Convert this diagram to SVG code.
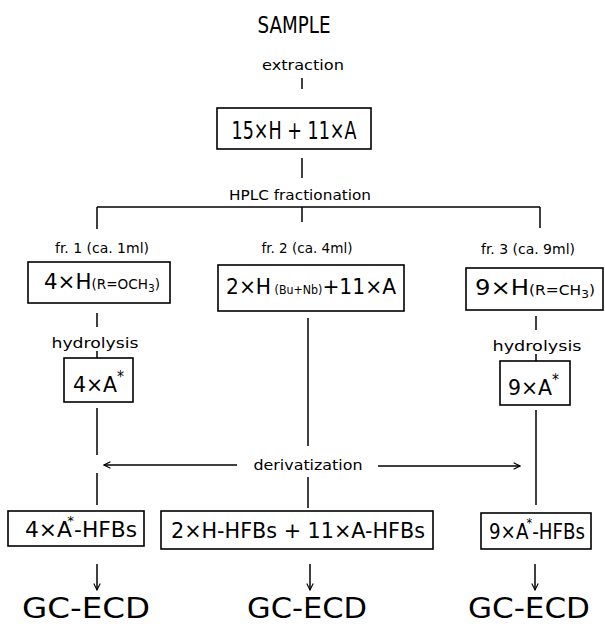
<svg xmlns="http://www.w3.org/2000/svg" width="605" height="626" viewBox="0 0 605 626">
<defs>
<style>
text{font-family:"DejaVu Sans Condensed","Liberation Sans Narrow","DejaVu Sans",sans-serif;fill:#000;}
.box{fill:none;stroke:#000;stroke-width:1.6;}
.ln{fill:none;stroke:#000;stroke-width:1.5;}
.s{font-size:14px;}
.m{font-size:22px;}
.g{font-size:29px;}
</style>
<marker id="ah" viewBox="0 0 10 10" refX="9" refY="5" markerWidth="8" markerHeight="8" markerUnits="userSpaceOnUse" orient="auto">
<path d="M1,1 L9,5 L1,9" fill="none" stroke="#000" stroke-width="1.4"/>
</marker>
</defs>
<rect width="605" height="626" fill="#fff"/>

<g id="sample"><text x="294" y="33" font-size="23" text-anchor="middle" textLength="73" lengthAdjust="spacingAndGlyphs">SAMPLE</text></g>
<g id="extraction"><text x="303" y="70" class="s" text-anchor="middle" textLength="82" lengthAdjust="spacingAndGlyphs">extraction</text></g>

<g id="n-extract">
<rect class="box" x="217" y="108" width="154" height="41"/>
<text x="294" y="139" font-size="25" text-anchor="middle" textLength="125" lengthAdjust="spacingAndGlyphs">15×H + 11×A</text>
</g>

<g id="hplc"><text x="300" y="200" class="s" text-anchor="middle" textLength="142" lengthAdjust="spacingAndGlyphs">HPLC fractionation</text></g>

<g id="fr1"><text x="102" y="253" class="s" text-anchor="middle" textLength="94" lengthAdjust="spacingAndGlyphs">fr. 1 (ca. 1ml)</text></g>
<g id="fr2"><text x="307" y="253" class="s" text-anchor="middle" textLength="91" lengthAdjust="spacingAndGlyphs">fr. 2 (ca. 4ml)</text></g>
<g id="fr3"><text x="528" y="254" class="s" text-anchor="middle" textLength="94" lengthAdjust="spacingAndGlyphs">fr. 3 (ca. 9ml)</text></g>

<g id="n-fr1">
<rect class="box" x="28" y="262" width="142" height="41"/>
<text x="44" y="289" class="m" textLength="116" lengthAdjust="spacingAndGlyphs">4×H<tspan font-size="14">(R=OCH</tspan><tspan font-size="11" dy="3">3</tspan><tspan font-size="14" dy="-3">)</tspan></text>
</g>

<g id="n-fr2">
<rect class="box" x="218" y="265" width="186" height="46"/>
<text x="226" y="294" class="m" textLength="170" lengthAdjust="spacingAndGlyphs">2×H<tspan font-size="12"> (Bu+Nb)</tspan>+11×A</text>
</g>

<g id="n-fr3">
<rect class="box" x="466" y="268" width="137" height="42"/>
<text x="475" y="295" class="m" textLength="120" lengthAdjust="spacingAndGlyphs">9×H<tspan font-size="14">(R=CH</tspan><tspan font-size="11" dy="3">3</tspan><tspan font-size="14" dy="-3">)</tspan></text>
</g>

<g id="hyd1"><text x="95" y="348" class="s" text-anchor="middle" textLength="87" lengthAdjust="spacingAndGlyphs">hydrolysis</text></g>
<g id="hyd2"><text x="537" y="351" class="s" text-anchor="middle" textLength="89" lengthAdjust="spacingAndGlyphs">hydrolysis</text></g>

<g id="n-a1">
<rect class="box" x="64" y="358" width="69" height="44"/>
<text x="73" y="392" class="m" textLength="51" lengthAdjust="spacingAndGlyphs">4×A<tspan font-size="15" dy="-10">*</tspan></text>
</g>

<g id="n-a3">
<rect class="box" x="500" y="361" width="70" height="44"/>
<text x="508" y="395" class="m" textLength="51" lengthAdjust="spacingAndGlyphs">9×A<tspan font-size="15" dy="-10">*</tspan></text>
</g>

<g id="deriv"><text x="308" y="470" class="s" text-anchor="middle" textLength="109" lengthAdjust="spacingAndGlyphs">derivatization</text></g>

<g id="n-h1">
<rect class="box" x="8" y="511" width="136" height="35"/>
<text x="25" y="537" font-size="21" textLength="112" lengthAdjust="spacingAndGlyphs">4×A<tspan font-size="13" dx="-4" dy="-12">*</tspan><tspan dy="12">-HFBs</tspan></text>
</g>

<g id="n-h2">
<rect class="box" x="161" y="511" width="272" height="38"/>
<text x="171" y="538" font-size="21" textLength="254" lengthAdjust="spacingAndGlyphs">2×H-HFBs + 11×A-HFBs</text>
</g>

<g id="n-h3">
<rect class="box" x="481" y="513" width="110" height="36"/>
<text x="489" y="539" font-size="21" textLength="96" lengthAdjust="spacingAndGlyphs">9×A<tspan font-size="13" dx="-2" dy="-12">*</tspan><tspan dy="12">-HFBs</tspan></text>
</g>

<g id="gc1"><text x="86" y="618" class="g" text-anchor="middle" textLength="128" lengthAdjust="spacingAndGlyphs">GC-ECD</text></g>
<g id="gc2"><text x="307" y="618" class="g" text-anchor="middle" textLength="120" lengthAdjust="spacingAndGlyphs">GC-ECD</text></g>
<g id="gc3"><text x="529" y="618" class="g" text-anchor="middle" textLength="122" lengthAdjust="spacingAndGlyphs">GC-ECD</text></g>

<g id="connectors">
<line class="ln" x1="302" y1="78" x2="302" y2="89"/>
<line class="ln" x1="302" y1="158" x2="302" y2="178"/>
<line class="ln" x1="97" y1="207" x2="540" y2="207"/>
<line class="ln" x1="97" y1="207" x2="97" y2="229"/>
<line class="ln" x1="302" y1="207" x2="302" y2="222"/>
<line class="ln" x1="540" y1="207" x2="540" y2="228"/>
<line class="ln" x1="97" y1="313" x2="97" y2="327"/>
<line class="ln" x1="97" y1="351" x2="97" y2="358"/>
<line class="ln" x1="536" y1="316" x2="536" y2="330"/>
<line class="ln" x1="536" y1="354" x2="536" y2="361"/>
<line class="ln" x1="308" y1="318" x2="308" y2="446"/>
<line class="ln" x1="97" y1="408" x2="97" y2="455"/>
<line class="ln" x1="97" y1="473" x2="97" y2="505"/>
<line class="ln" x1="536" y1="410" x2="536" y2="505"/>
<line class="ln" x1="308" y1="477" x2="308" y2="508"/>
<line class="ln" x1="237" y1="465" x2="104" y2="465" marker-end="url(#ah)"/>
<line class="ln" x1="378" y1="466" x2="520" y2="466" marker-end="url(#ah)"/>
<line class="ln" x1="97" y1="564" x2="97" y2="590" marker-end="url(#ah)"/>
<line class="ln" x1="310" y1="564" x2="310" y2="590" marker-end="url(#ah)"/>
<line class="ln" x1="535" y1="564" x2="535" y2="590" marker-end="url(#ah)"/>
</g>
</svg>
